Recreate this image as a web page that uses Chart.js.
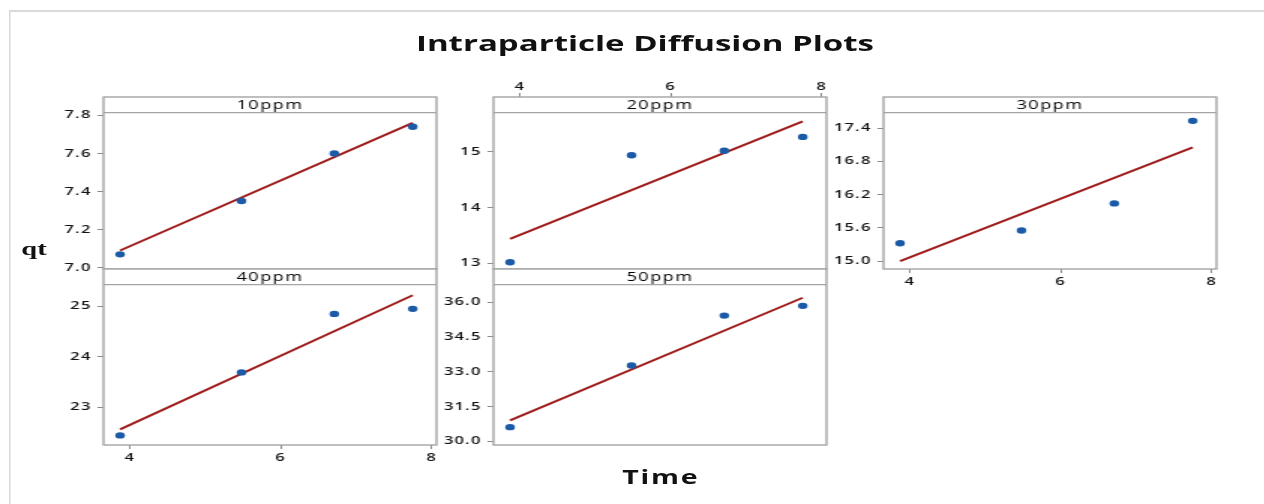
<!DOCTYPE html>
<html>
<head>
<meta charset="utf-8">
<title>Intraparticle Diffusion Plots</title>
<script src="https://cdn.jsdelivr.net/npm/chart.js@4.4.1/dist/chart.umd.min.js"></script>
<style>
  html, body { margin: 0; padding: 0; background: #fff; }
  body { width: 1264px; height: 504px; overflow: hidden; position: relative; }
  /* the whole sheet is laid out narrow and stretched sideways */
  #sheet { position: absolute; left: 0; top: 0; width: 842.7px; height: 504px;
           transform: scaleX(1.5); transform-origin: 0 0; }
  #frame { position: absolute; left: 5.5px; top: 10px; right: 0; bottom: 0;
           border-left: 1.4px solid #dadada; border-top: 2px solid #dadada; }
  #sheet canvas { position: absolute; }
  .lbl { position: absolute; text-align: center; white-space: nowrap; color: #111; }
  #title { left: 230px; width: 400px; top: 31px; font: 700 22px/22px "Open Sans", sans-serif; letter-spacing: 0; }
  #xlab { left: 340.5px; width: 200px; top: 468px; font: 700 19px/19px "Open Sans", sans-serif; letter-spacing: 1.2px; }
  #ylab { left: 2.7px; width: 40px; top: 238.6px; font: bold 19px/19px "Liberation Serif", serif; }
</style>
</head>
<body>
<div id="sheet">
  <div id="frame"></div>
  <div id="title" class="lbl">Intraparticle Diffusion Plots</div>
  <div id="ylab" class="lbl">qt</div>
  <div id="xlab" class="lbl">Time</div>
</div>
<script>
// square root of contact time, shared by every concentration
const sqrtTime = [3.87, 5.48, 6.71, 7.75];
const timeTicks = ['4', '6', '8'];
const timeRange = [3.65, 8.065];

const panelNames = ['10ppm', '20ppm', '30ppm', '40ppm', '50ppm'];

// qt values per initial concentration
const qt10 = [7.07, 7.35, 7.60, 7.74];
const qt20 = [13.02, 14.94, 15.02, 15.27];
const qt30 = [15.32, 15.55, 16.04, 17.53];
const qt40 = [22.44, 23.69, 24.85, 24.95];
const qt50 = [30.61, 33.27, 35.42, 35.84];

// fitted line at first and last time
const fit10 = [7.09, 7.76];
const fit20 = [13.44, 15.55];
const fit30 = [15.00, 17.05];
const fit40 = [22.56, 25.22];
const fit50 = [30.90, 36.19];

// y tick labels
const yTicks10 = ['7.0', '7.2', '7.4', '7.6', '7.8'];
const yTicks20 = ['13', '14', '15'];
const yTicks30 = ['15.0', '15.6', '16.2', '16.8', '17.4'];
const yTicks40 = ['23', '24', '25'];
const yTicks50 = ['30.0', '31.5', '33.0', '34.5', '36.0'];

// y limits (upper limit includes the header strip)
const yRange10 = [6.993, 7.896];
const yRange20 = [12.898, 15.986];
const yRange30 = [14.856, 17.96];
const yRange40 = [22.25, 25.74];
const yRange50 = [29.84, 37.43];

const AXIS_W = 45;     // room for y tick labels
const TOP_ROOM = 25;   // room above the panel box
const BOT_ROOM = 22;   // room below the panel box
const RIGHT_ROOM = 10;
const BOX_W = 222;
const STRIP_H = 15.6;

const POINT_COLOR = '#1a5aa6';
const FIT_COLOR = '#9e1b1b';
const BOX_COLOR = '#a4a4a4';
const TICK_COLOR = '#111';

const panels = [
  { name: panelNames[0], q: qt10, fit: fit10, ticks: yTicks10, range: yRange10, left: 69,  top: 97,  height: 172, xAxis: null },
  { name: panelNames[1], q: qt20, fit: fit20, ticks: yTicks20, range: yRange20, left: 329, top: 97,  height: 172, xAxis: 'top' },
  { name: panelNames[2], q: qt30, fit: fit30, ticks: yTicks30, range: yRange30, left: 589, top: 97,  height: 172, xAxis: 'bottom' },
  { name: panelNames[3], q: qt40, fit: fit40, ticks: yTicks40, range: yRange40, left: 69,  top: 269, height: 176, xAxis: 'bottom' },
  { name: panelNames[4], q: qt50, fit: fit50, ticks: yTicks50, range: yRange50, left: 329, top: 269, height: 176, xAxis: null },
];

// panel box with the header strip on top
const facetStrip = {
  id: 'facetStrip',
  beforeUpdate(chart) { chart.ctx.letterSpacing = '0.8px'; },
  beforeDraw(chart) { chart.ctx.letterSpacing = '0.8px'; },
  afterDraw(chart, args, opts) {
    const { ctx, chartArea: a } = chart;
    ctx.save();
    ctx.fillStyle = '#fff';
    ctx.fillRect(a.left, a.top, a.width, STRIP_H);
    ctx.strokeStyle = BOX_COLOR;
    ctx.lineWidth = 1.4;
    ctx.strokeRect(a.left, a.top, a.width, a.height);
    ctx.beginPath();
    ctx.moveTo(a.left, a.top + STRIP_H);
    ctx.lineTo(a.right, a.top + STRIP_H);
    ctx.stroke();
    ctx.fillStyle = '#000';
    ctx.font = '12px "Open Sans", sans-serif';
    ctx.letterSpacing = '1px';
    ctx.textAlign = 'center';
    ctx.textBaseline = 'middle';
    ctx.fillText(opts.label, (a.left + a.right) / 2, a.top + STRIP_H / 2 + 0.5);
    ctx.restore();
  }
};

const tickFont = { family: '"Open Sans", sans-serif', size: 11, weight: '600' };
const sheet = document.getElementById('sheet');

panels.forEach(function (p) {
  const canvas = document.createElement('canvas');
  canvas.width = AXIS_W + BOX_W + RIGHT_ROOM;
  canvas.height = TOP_ROOM + p.height + BOT_ROOM;
  canvas.style.left = (p.left - AXIS_W) + 'px';
  canvas.style.top = (p.top - TOP_ROOM) + 'px';
  sheet.appendChild(canvas);

  const points = sqrtTime.map((t, i) => ({ x: t, y: p.q[i] }));
  const fitLine = [
    { x: sqrtTime[0], y: p.fit[0] },
    { x: sqrtTime[sqrtTime.length - 1], y: p.fit[1] },
  ];

  new Chart(canvas.getContext('2d'), {
    type: 'scatter',
    data: {
      datasets: [
        {
          data: points,
          backgroundColor: POINT_COLOR,
          borderColor: POINT_COLOR,
          borderWidth: 0,
          pointRadius: 3.2,
          order: 0,
        },
        {
          data: fitLine,
          showLine: true,
          borderColor: FIT_COLOR,
          borderWidth: 2,
          pointRadius: 0,
          order: 1,
        },
      ],
    },
    options: {
      responsive: false,
      animation: false,
      events: [],
      layout: {
        padding: {
          left: 0,
          right: RIGHT_ROOM,
          top: p.xAxis === 'top' ? 0 : TOP_ROOM,
          bottom: p.xAxis === 'bottom' ? 0 : BOT_ROOM,
        },
      },
      plugins: {
        legend: { display: false },
        tooltip: { enabled: false },
        facetStrip: { label: p.name },
      },
      scales: {
        x: {
          type: 'linear',
          display: p.xAxis !== null,
          position: p.xAxis || 'bottom',
          min: timeRange[0],
          max: timeRange[1],
          afterFit(s) {
            // a hidden axis must not take any room
            s.height = p.xAxis === 'top' ? TOP_ROOM : p.xAxis === 'bottom' ? BOT_ROOM : 0;
          },
          afterBuildTicks(s) { s.ticks = timeTicks.map((t) => ({ value: parseFloat(t) })); },
          ticks: {
            callback: (v, i) => timeTicks[i],
            font: tickFont,
            color: TICK_COLOR,
            padding: p.xAxis === 'top' ? 0 : 2,
            maxRotation: 0,
          },
          grid: { drawOnChartArea: false, drawTicks: true, tickLength: 4, color: '#8a8a8a' },
          border: { display: false },
        },
        y: {
          type: 'linear',
          min: p.range[0],
          max: p.range[1],
          afterFit(s) { s.width = AXIS_W; },
          afterBuildTicks(s) { s.ticks = p.ticks.map((t) => ({ value: parseFloat(t) })); },
          ticks: {
            callback: (v, i) => p.ticks[i],
            font: tickFont,
            color: TICK_COLOR,
            padding: 4,
          },
          grid: { drawOnChartArea: false, drawTicks: true, tickLength: 4, color: '#8a8a8a' },
          border: { display: false },
        },
      },
    },
    plugins: [facetStrip],
  });
});
</script>
</body>
</html>
